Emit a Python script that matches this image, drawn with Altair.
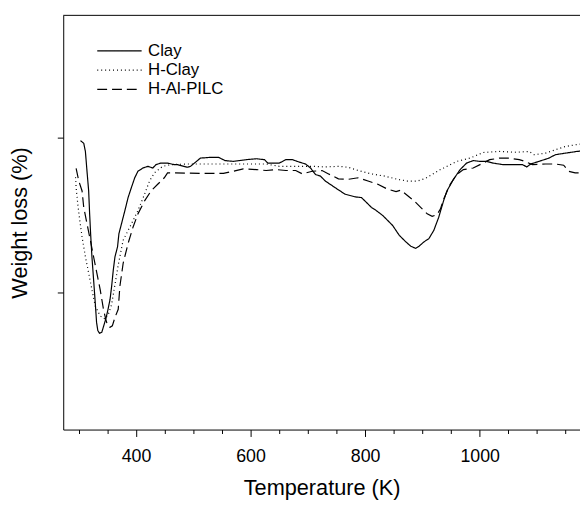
import altair as alt
import pandas as pd

# ---- data (temperature in K, weight loss in relative units) ----
series_names = ["Clay", "H-Clay", "H-Al-PILC"]
series_dashes = [[1, 0], [1, 3], [10, 5]]

clay_t = [303.1, 308.8, 311.7, 314.5, 317.4, 319.1, 320.8, 323.1, 326.0, 328.9,
          331.2, 333.4, 336.3, 340.3, 343.7, 347.2, 350.6, 354.7, 357.5, 360.4,
          363.3, 367.8, 370.2, 374.7, 380.6, 386.2, 391.9, 397.8, 403.4, 412.0,
          420.7, 429.3, 434.9, 443.5, 455.1, 466.6, 472.3, 489.5, 495.2, 512.4,
          529.6, 544.1, 555.4, 569.9, 592.8, 610.0, 624.3, 630.1, 650.1, 661.6,
          673.2, 684.5, 696.0, 704.7, 713.3, 721.9, 730.5, 747.7, 764.9, 782.1,
          793.6, 802.2, 810.9, 819.5, 830.8, 839.4, 848.0, 859.6, 871.1, 879.7,
          888.3, 894.0, 902.6, 911.2, 919.8, 928.4, 937.1, 942.7, 954.2, 965.8,
          977.1, 988.6, 1000.2, 1011.5, 1023.1, 1040.3, 1057.5, 1074.7, 1082.1, 1089.0,
          1103.5, 1120.7, 1132.0, 1149.3, 1169.4, 1180.0]
clay_w = [9.81, 9.64, 9.11, 7.83, 6.56, 5.08, 3.80, 2.31, 0.83, -0.66,
          -1.93, -2.46, -2.63, -2.57, -2.15, -1.72, -1.19, -0.45, 0.40, 1.46,
          2.31, 2.95, 3.80, 4.44, 5.29, 6.13, 6.77, 7.41, 7.83, 8.04,
          8.15, 8.04, 8.26, 8.36, 8.36, 8.26, 8.26, 8.09, 8.15, 8.68,
          8.73, 8.73, 8.52, 8.47, 8.58, 8.64, 8.58, 8.36, 8.36, 8.58,
          8.58, 8.43, 8.30, 8.04, 7.62, 7.52, 7.20, 6.77, 6.35, 6.18,
          6.13, 5.82, 5.50, 5.29, 4.97, 4.65, 4.33, 3.69, 3.27, 2.99,
          2.85, 2.99, 3.27, 3.48, 4.01, 4.86, 5.95, 6.56, 7.31, 7.94,
          8.36, 8.52, 8.47, 8.47, 8.36, 8.26, 8.26, 8.26, 8.11, 8.30,
          8.47, 8.68, 8.90, 9.00, 9.11, 9.15]

hclay_t = [294.5, 295.5, 298.4, 301.9, 305.9, 311.7, 317.4, 323.1, 328.9, 337.5,
           346.1, 351.8, 357.5, 363.3, 369.0, 377.6, 389.2, 403.4, 415.0, 423.6,
           432.2, 446.5, 460.8, 490.0, 560.0, 627.2, 650.1, 684.5, 707.6, 730.5,
           753.4, 770.6, 787.8, 810.9, 833.8, 856.6, 873.9, 891.1, 905.5, 916.9,
           931.3, 937.0, 959.9, 983.0, 1005.9, 1034.6, 1063.2, 1086.2, 1094.8, 1114.8,
           1132.0, 1149.3, 1166.5, 1180.0]
hclay_w = [7.45, 6.77, 5.71, 4.65, 3.59, 2.31, 1.25, 0.19, -0.87, -1.51,
           -1.72, -1.40, -0.76, 0.51, 1.78, 3.38, 4.22, 5.29, 6.35, 7.20,
           7.73, 8.15, 8.26, 8.30, 8.30, 8.30, 8.15, 8.15, 8.15, 8.11,
           8.15, 8.09, 7.88, 7.66, 7.52, 7.31, 7.20, 7.20, 7.37, 7.62,
           7.94, 8.04, 8.47, 8.68, 9.04, 9.11, 9.06, 9.11, 8.90, 9.00,
           9.22, 9.43, 9.54, 9.60]

pilc_t = [295.5, 300.2, 305.9, 308.8, 314.5, 320.3, 326.0, 331.7, 337.5, 343.2,
          347.2, 350.6, 354.7, 358.7, 363.3, 369.0, 371.9, 377.6, 386.2, 394.8,
          403.4, 415.0, 426.3, 437.9, 449.4, 455.1, 466.6, 512.4, 552.7, 569.9,
          587.1, 610.0, 627.2, 644.4, 661.6, 678.8, 690.4, 707.6, 724.8, 736.2,
          753.4, 770.6, 787.8, 805.0, 822.2, 839.4, 853.9, 862.5, 871.1, 885.4,
          896.9, 908.3, 916.9, 925.5, 931.3, 937.0, 948.5, 959.9, 971.4, 988.6,
          1005.9, 1017.4, 1034.6, 1051.8, 1069.0, 1074.7, 1091.9, 1114.8, 1132.0, 1146.5,
          1155.1, 1166.5, 1180.0]
pilc_w = [8.01, 7.20, 6.56, 5.50, 4.44, 3.38, 2.31, 1.25, 0.19, -1.08,
          -1.72, -2.15, -2.25, -2.15, -1.61, -1.08, 0.40, 1.89, 3.17, 4.22,
          5.08, 5.92, 6.56, 6.99, 7.41, 7.73, 7.73, 7.69, 7.69, 7.83,
          7.98, 7.94, 7.88, 7.94, 7.88, 7.88, 7.66, 7.83, 7.88, 7.66,
          7.34, 7.31, 7.41, 7.20, 6.99, 6.67, 6.52, 6.61, 6.35, 5.92,
          5.50, 5.08, 4.92, 5.03, 5.39, 6.03, 6.99, 7.62, 7.94, 8.04,
          8.36, 8.58, 8.68, 8.68, 8.58, 8.52, 8.26, 8.30, 8.30, 8.22,
          7.83, 7.73, 7.73]

x_ticks = list(range(300, 1151, 50))
y_ticks = [0, 10]
x_domain = [273, 1175]
y_domain = [-8.85, 17.9]

rows = []
for name, ts, ws in zip(series_names, [clay_t, hclay_t, pilc_t], [clay_w, hclay_w, pilc_w]):
    for i, (t, w) in enumerate(zip(ts, ws)):
        rows.append({"series": name, "T": t, "W": w, "idx": i})
df = pd.DataFrame(rows)

W, H = 524, 420
FONT = "Liberation Sans"

lines = alt.Chart(df).mark_line(clip=True, color="black", strokeWidth=1.2).encode(
    x=alt.X("T:Q", scale=alt.Scale(domain=x_domain, nice=False, zero=False),
            axis=alt.Axis(title="Temperature (K)", values=x_ticks, format="d",
                          labelExpr="datum.value % 200 === 0 ? datum.label : ''",
                          tickSize={"condition": {"test": "datum.value % 200 === 0", "value": 7}, "value": 4},
                          labelPadding=11, titlePadding=13, grid=False)),
    y=alt.Y("W:Q", scale=alt.Scale(domain=y_domain, nice=False, zero=False),
            axis=alt.Axis(title="Weight loss (%)", values=y_ticks, labels=False,
                          tickSize=6, titlePadding=26, grid=False)),
    strokeDash=alt.StrokeDash("series:N",
                              scale=alt.Scale(domain=series_names, range=series_dashes),
                              sort=series_names,
                              legend=alt.Legend(title=None, orient="none", legendX=48.5, legendY=27.5,
                                                symbolType="M-4.5,0H4.5", symbolSize=100,
                                                symbolStrokeWidth=1.2, symbolStrokeColor="black",
                                                labelFont=FONT, labelFontSize=17, labelColor="black",
                                                labelOffset=20.5, rowPadding=1.5, padding=0)),
    order="idx:Q",
)

top_border = alt.Chart(pd.DataFrame({"k": [0]})).mark_rule(color="black", strokeWidth=1).encode(
    x=alt.value(0), x2=alt.value(W), y=alt.value(0)
)

chart = alt.layer(lines, top_border).properties(
    width=W, height=H, autosize="none",
    padding={"left": 56, "top": 4, "right": 0, "bottom": 70},
).configure_view(stroke=None).configure_axis(
    domainColor="black", domainWidth=1, tickColor="black", tickWidth=1,
    labelFont=FONT, labelFontSize=18, labelColor="black",
    titleFont=FONT, titleFontSize=22, titleFontWeight="normal", titleColor="black",
)

chart.save("out.html", embed_options={"renderer": "svg", "actions": False})
